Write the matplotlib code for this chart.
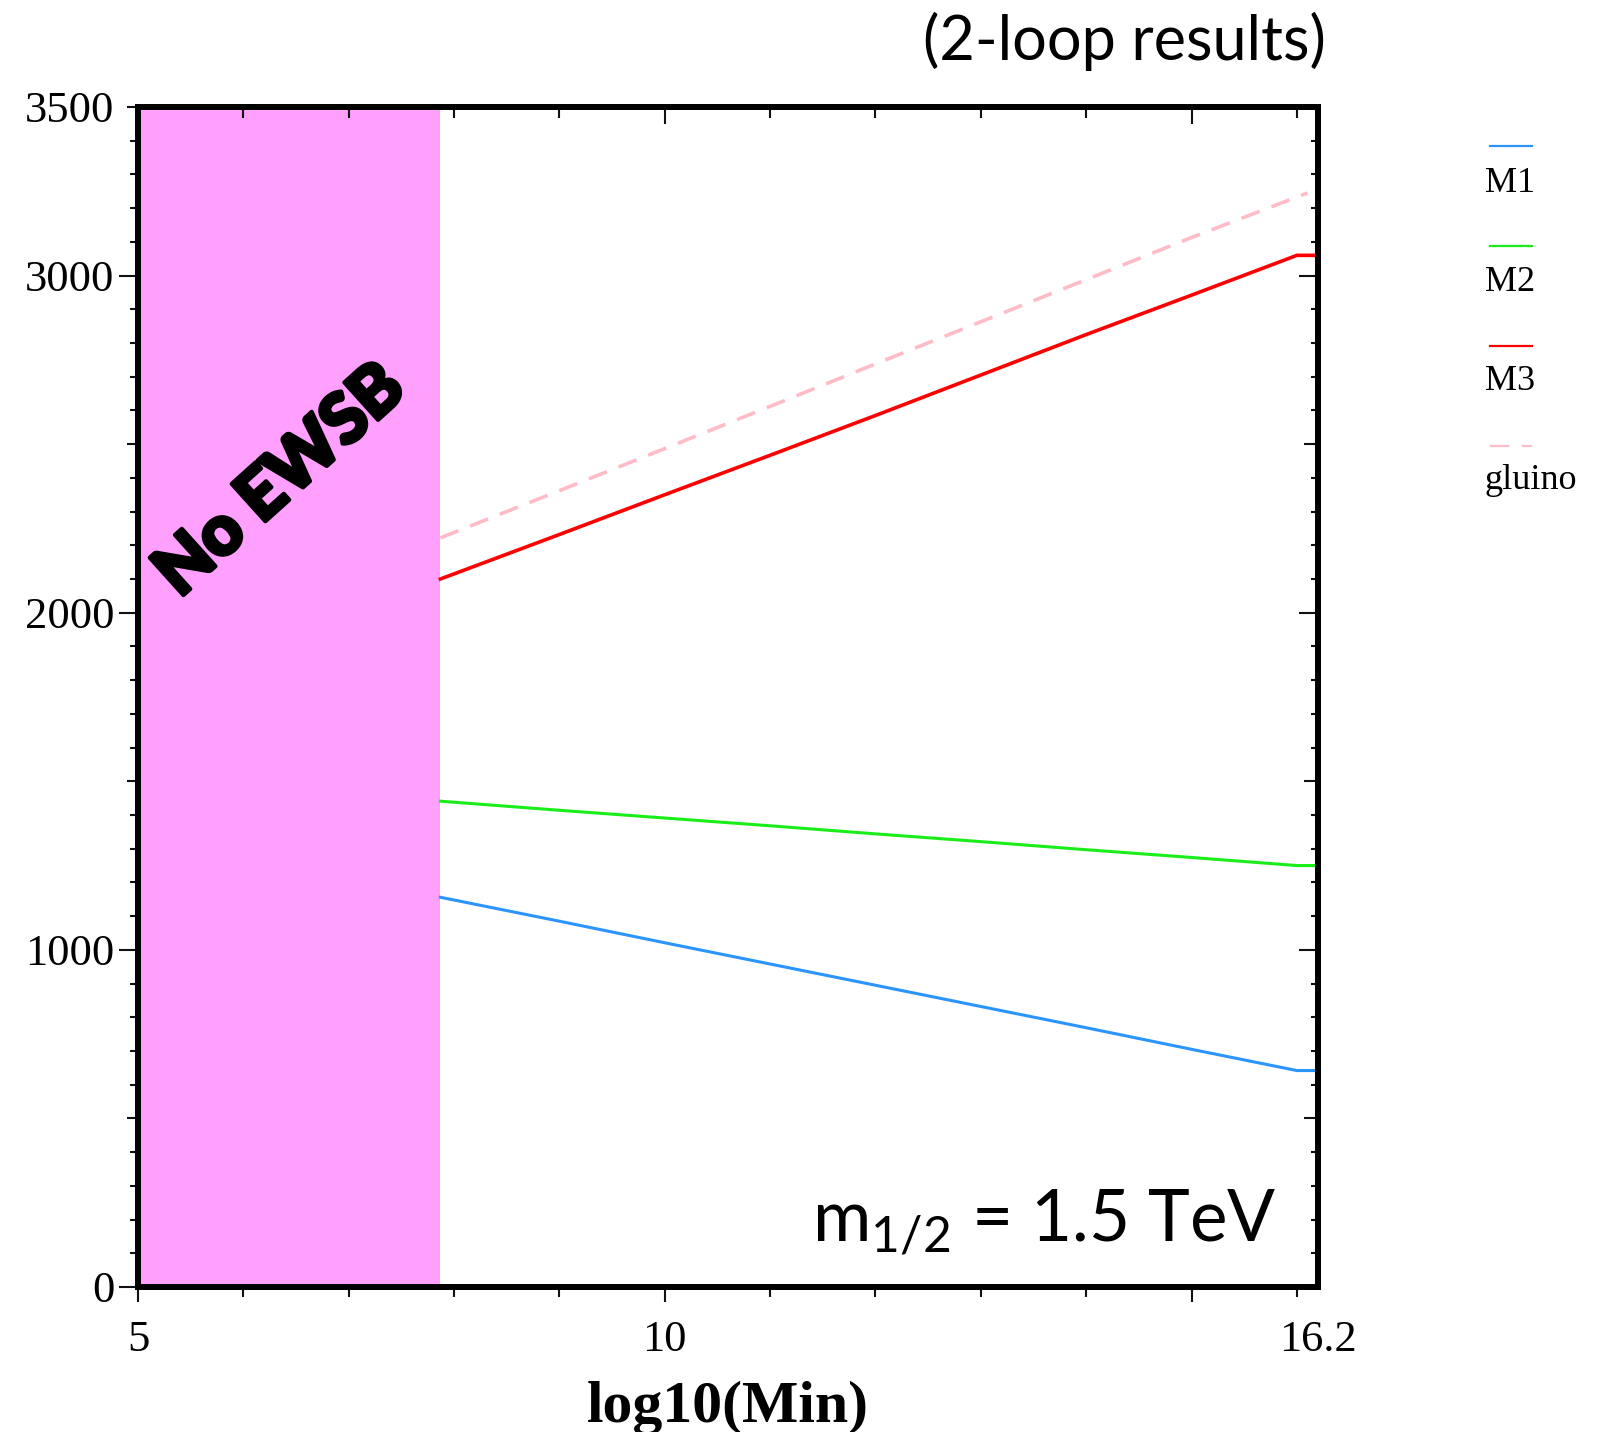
import matplotlib
matplotlib.use("Agg")
import matplotlib.pyplot as plt
from matplotlib.lines import Line2D
from matplotlib.ticker import MultipleLocator, FixedLocator
import matplotlib.patheffects as pe

# ---------------- data ----------------
ewsb_edge = 7.87
x_vals   = [7.87, 9, 10, 11, 12, 13, 14, 15, 16, 16.2]
m1_vals  = [1156, 1085, 1021, 958, 895, 832, 769, 705, 642, 642]
m2_vals  = [1441, 1414, 1391, 1368, 1344, 1321, 1297, 1274, 1250, 1250]
m3_vals  = [2100, 2232, 2350, 2467, 2585, 2705, 2825, 2942, 3060, 3060]
glu_x    = [7.87, 9, 10, 11, 12, 13, 14, 15, 16.1]
glu_vals = [2222, 2362, 2487, 2612, 2738, 2863, 2988, 3113, 3245]

series_names = ["M1", "M2", "M3", "gluino"]
x_tick_pos = [5, 10, 15, 16.2]
x_tick_lab = ["5", "10", "", "16.2"]
y_tick_pos = [0, 500, 1000, 1500, 2000, 2500, 3000, 3500]
y_tick_lab = ["0", "", "1000", "", "2000", "", "3000", "3500"]

# ---------------- style ----------------
plt.rcParams['lines.scale_dashes'] = False
plt.rcParams['mathtext.fontset'] = 'custom'
plt.rcParams['mathtext.rm'] = 'Lato'
serif = 'Liberation Serif'
c_m1, c_m2, c_m3, c_glu = '#2a94ff', '#19ee19', '#ff0000', '#ffbcc8'
c_pink = '#ffa0ff'

W, H = 1604, 1432
fig = plt.figure(figsize=(W / 100, H / 100), dpi=100)
ax = fig.add_axes([138 / W, 145 / H, 1180 / W, 1180 / H])

ax.axvspan(5, ewsb_edge, color=c_pink, lw=0, zorder=0)
ax.plot(x_vals, m1_vals, color=c_m1, lw=2.2, zorder=3)
ax.plot(x_vals, m2_vals, color=c_m2, lw=2.2, zorder=3)
ax.plot(x_vals, m3_vals, color=c_m3, lw=2.6, zorder=3)
glu_line, = ax.plot(glu_x, glu_vals, color=c_glu, lw=2.6, zorder=3)
glu_line.set_dashes([14, 9])

ax.set_xlim(5, 16.2)
ax.set_ylim(0, 3500)

for s in ax.spines.values():
    s.set_linewidth(4.3)
    s.set_zorder(5)

# left / bottom ticks (outward)
ax.xaxis.set_major_locator(FixedLocator(x_tick_pos))
ax.set_xticklabels(x_tick_lab, fontsize=32, family=serif)
ax.xaxis.set_minor_locator(FixedLocator([6, 7, 8, 9, 11, 12, 13, 14, 16]))
ax.yaxis.set_major_locator(FixedLocator(y_tick_pos))
ax.set_yticklabels(y_tick_lab, fontsize=32, family=serif)
ax.yaxis.set_minor_locator(MultipleLocator(100))
ax.tick_params(axis='both', which='both', direction='out', width=1.5, color='#111111',
               top=False, right=False)
ax.tick_params(axis='y', which='major', length=14, pad=3)
ax.tick_params(axis='y', which='minor', length=6)
ax.tick_params(axis='x', which='major', length=11, pad=13)
ax.tick_params(axis='x', which='minor', length=7)
for t, v in zip(ax.yaxis.get_major_ticks(), y_tick_pos):
    if v % 1000 != 0:
        t.tick1line.set_markersize(8)
for t, v in zip(ax.xaxis.get_major_ticks(), x_tick_pos):
    if v == 16.2:
        t.tick1line.set_markersize(0)

# right ticks (inward)
axr = ax.twinx()
axr.set_ylim(0, 3500)
axr.yaxis.set_major_locator(FixedLocator(y_tick_pos))
axr.yaxis.set_minor_locator(MultipleLocator(100))
axr.tick_params(axis='y', which='both', direction='in', width=1.5, color='#111111',
                labelright=False)
axr.tick_params(axis='y', which='major', length=14)
axr.tick_params(axis='y', which='minor', length=5)
for t, v in zip(axr.yaxis.get_major_ticks(), y_tick_pos):
    if v % 1000 != 0:
        t.tick2line.set_markersize(10)
for s in axr.spines.values():
    s.set_linewidth(4.3)

# top ticks (inward)
axt = ax.twiny()
axt.set_xlim(5, 16.2)
axt.xaxis.set_major_locator(FixedLocator([5, 10, 15]))
axt.xaxis.set_minor_locator(FixedLocator([6, 7, 8, 9, 11, 12, 13, 14, 16]))
axt.tick_params(axis='x', which='both', direction='in', width=1.5, color='#111111',
                labeltop=False)
axt.tick_params(axis='x', which='major', length=12)
axt.tick_params(axis='x', which='minor', length=8)
for s in axt.spines.values():
    s.set_linewidth(4.3)

# axis label
fig.text(728 / W, (H - 1422) / H, "log10(Min)", family=serif, fontweight='bold',
         fontsize=43, ha='center', va='baseline')

# annotations
fig.text(1326 / W, (H - 60) / H, "(2-loop results)", family='Lato', fontsize=44,
         ha='right', va='baseline')
fig.text(1276 / W, (H - 1242) / H, r"m$_{\mathrm{1/2}}$ = 1.5 TeV", family='Lato',
         fontsize=51, ha='right', va='baseline')
fig.text(281 / W, (H - 481) / H, "No EWSB", family='Lato', fontweight='black',
         fontsize=50, rotation=42, ha='center', va='center', rotation_mode='anchor',
         path_effects=[pe.withStroke(linewidth=3, foreground='black')])

# legend (outside, right)
leg_colors = [c_m1, c_m2, c_m3, c_glu]
leg_line_y = [146, 246, 346, 446]
leg_text_y = [192, 291, 390, 489]
for name, col, ly, ty in zip(series_names, leg_colors, leg_line_y, leg_text_y):
    ln = Line2D([1490 / W, 1532 / W], [(H - ly) / H] * 2, transform=fig.transFigure,
                color=col, lw=1.6)
    if name == "gluino":
        ln.set_dashes([14, 9])
    fig.add_artist(ln)
    fig.text(1485 / W, (H - ty) / H, name, family=serif, fontsize=26,
             ha='left', va='baseline')

fig.savefig("out.png", dpi=100)
